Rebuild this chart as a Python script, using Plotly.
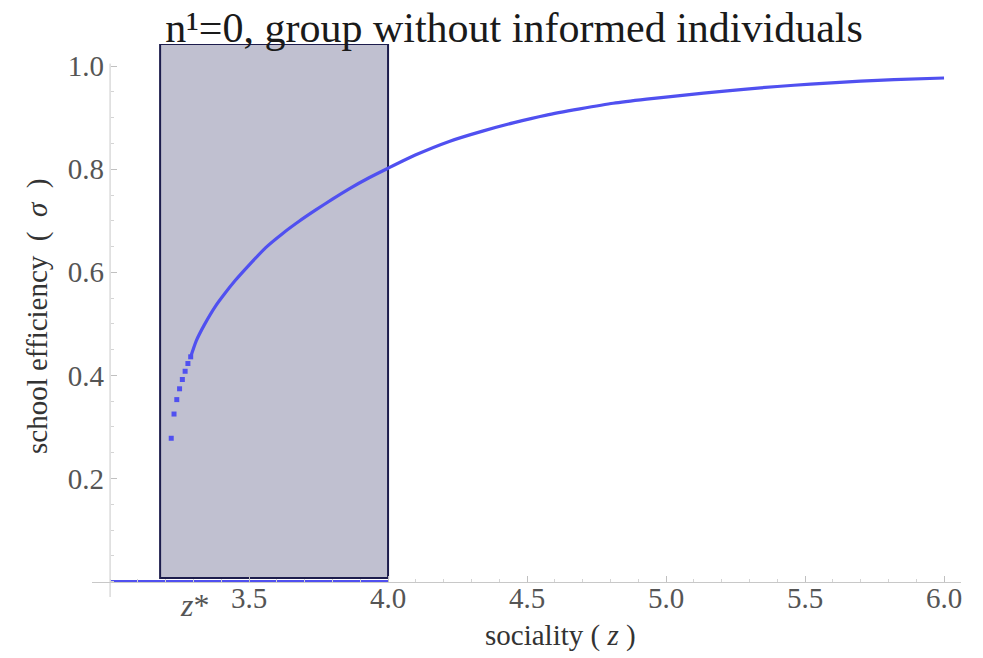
import plotly.graph_objects as go

# --- data -------------------------------------------------------------
# threshold sociality z* and the end of the bistable region
z_star = 3.18
z_bistable_end = 4.0

# branch with zero school efficiency (collapsed school)
zero_branch_z = [3.0, 4.0]
zero_branch_sigma = [0.0, 0.0]

# first, well separated solutions just above z*
dots_z = [3.22, 3.23, 3.24, 3.25, 3.26, 3.27, 3.28, 3.29]
dots_sigma = [0.278, 0.325, 0.353, 0.374, 0.392, 0.408, 0.423, 0.436]

# dense solutions forming the upper branch
curve_z = [3.29, 3.31, 3.34, 3.38, 3.41, 3.45, 3.50, 3.56, 3.62, 3.68, 3.74,
           3.80, 3.86, 3.93, 4.00, 4.10, 4.22, 4.34, 4.45, 4.57, 4.69, 4.81,
           4.93, 5.05, 5.22, 5.34, 5.46, 5.58, 5.70, 5.82, 6.00]
curve_sigma = [0.436, 0.467, 0.499, 0.535, 0.557, 0.584, 0.614, 0.648, 0.675,
               0.699, 0.721, 0.742, 0.762, 0.783, 0.802, 0.828, 0.854, 0.874,
               0.890, 0.905, 0.917, 0.928, 0.936, 0.943, 0.952, 0.958, 0.963,
               0.967, 0.971, 0.974, 0.977]

x_ticks = [3.5, 4.0, 4.5, 5.0, 5.5, 6.0]
x_tick_labels = ["3.5", "4.0", "4.5", "5.0", "5.5", "6.0"]
y_ticks = [0.2, 0.4, 0.6, 0.8, 1.0]
y_tick_labels = ["0.2", "0.4", "0.6", "0.8", "1.0"]

# --- styling ----------------------------------------------------------
SERIF = "Liberation Serif"
BLUE = "#5050f0"
AXIS_GRAY = "#c8c8c8"
LABEL_GRAY = "#555555"
NB = "\u00a0"

X_RANGE = [2.935, 6.061]
Y_RANGE = [-0.03, 1.043]
AXES_ORIGIN = (3.0, 0.0)

fig = go.Figure()

fig.add_trace(go.Scatter(
    x=zero_branch_z, y=zero_branch_sigma, mode="lines",
    line=dict(color=BLUE, width=3), showlegend=False, hoverinfo="skip"))

fig.add_trace(go.Scatter(
    x=dots_z, y=dots_sigma, mode="markers",
    marker=dict(color=BLUE, size=5, symbol="square", line=dict(width=0)),
    showlegend=False))

fig.add_trace(go.Scatter(
    x=curve_z, y=curve_sigma, mode="lines", line_shape="spline",
    line=dict(color=BLUE, width=3.2, smoothing=0.6), showlegend=False))

# shaded bistable region [z*, 4]
fig.add_shape(type="rect", xref="x", yref="y",
              x0=z_star, x1=z_bistable_end, y0=0.007, y1=1.043,
              fillcolor="#c0c0d0", line=dict(color="#1c1c4c", width=2),
              layer="below")

# vertical axis line through the axes origin
fig.add_shape(type="line", xref="x", yref="y",
              x0=AXES_ORIGIN[0], x1=AXES_ORIGIN[0], y0=Y_RANGE[0], y1=1.005,
              line=dict(color=AXIS_GRAY, width=1), layer="below")

x_pos = (AXES_ORIGIN[1] - Y_RANGE[0]) / (Y_RANGE[1] - Y_RANGE[0])
y_pos = (AXES_ORIGIN[0] - X_RANGE[0]) / (X_RANGE[1] - X_RANGE[0])

tick_font = dict(family=SERIF, size=29, color=LABEL_GRAY)

fig.update_layout(
    width=983, height=658,
    margin=dict(l=92, r=22, t=44, b=61),
    paper_bgcolor="white", plot_bgcolor="white",
    title=dict(text="n¹=0, group without informed individuals",
               font=dict(family=SERIF, size=42, color="#1a1a1a"),
               x=514 / 983, xanchor="center", y=1 - 27 / 658, yanchor="middle"),
    xaxis=dict(range=X_RANGE, anchor="free", position=x_pos,
               showline=True, linecolor=AXIS_GRAY, linewidth=1,
               showgrid=False, zeroline=False,
               tickmode="array", tickvals=x_ticks, ticktext=x_tick_labels,
               ticks="inside", ticklen=6, tickcolor="#c0c0c0",
               tickfont=tick_font, ticklabelstandoff=-9,
               minor=dict(tickmode="linear", tick0=3.0, dtick=0.1,
                          ticks="inside", ticklen=3, tickcolor="#d4d4d4")),
    yaxis=dict(range=Y_RANGE, anchor="free", position=y_pos,
               showline=False, showgrid=False, zeroline=False,
               tickmode="array", tickvals=y_ticks, ticktext=y_tick_labels,
               ticks="inside", ticklen=6, tickcolor="#c0c0c0",
               tickfont=tick_font, ticklabelstandoff=6,
               minor=dict(tickmode="linear", tick0=0.0, dtick=0.05,
                          ticks="inside", ticklen=3, tickcolor="#d4d4d4")),
)

fig.add_annotation(text=f"sociality{NB}({NB}<i>z</i>{NB})", xref="paper", yref="paper",
                   x=(560 - 92) / 869, y=-(635 - 597) / 553,
                   xanchor="center", yanchor="middle", showarrow=False,
                   font=dict(family=SERIF, size=29, color="#333333"))

fig.add_annotation(text=f"school efficiency{NB}{NB}({NB}{NB}<i>σ</i>{NB}{NB})",
                   xref="paper", yref="paper",
                   x=-(92 - 37) / 869, y=(597 - 316) / 553, textangle=-90,
                   xanchor="center", yanchor="middle", showarrow=False,
                   font=dict(family=SERIF, size=29, color="#333333"))

fig.add_annotation(text="<i>z</i>*", xref="x", yref="paper",
                   x=3.305, y=-(605 - 597) / 553, xanchor="center", yanchor="middle",
                   showarrow=False,
                   font=dict(family=SERIF, size=32, color=LABEL_GRAY))

fig.write_html("out.html")
